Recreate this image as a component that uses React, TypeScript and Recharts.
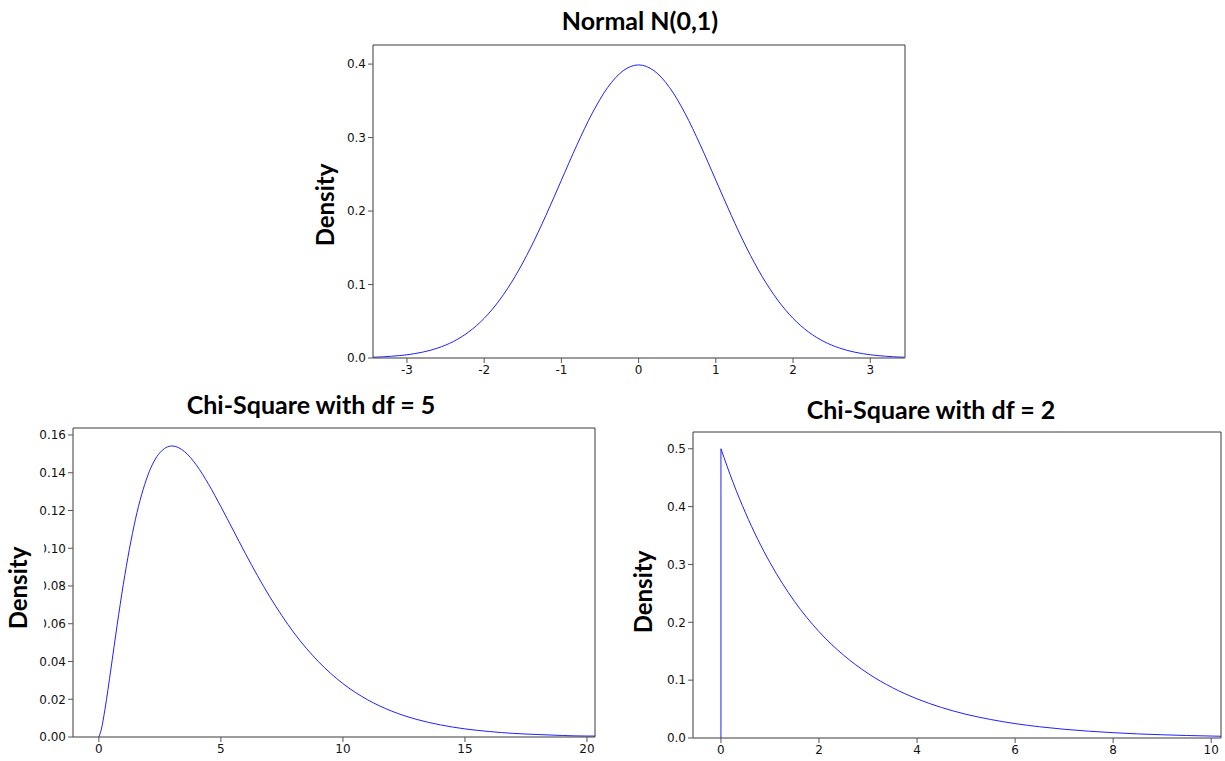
import React from 'react';
import { LineChart, Line, XAxis, YAxis, CartesianGrid } from 'recharts';

// ---- Normal N(0,1) ----
const normalX = [-3.44, -3.4, -3.2, -3.0, -2.8, -2.6, -2.4, -2.2, -2.0, -1.8, -1.6, -1.4, -1.2, -1.0, -0.8, -0.6, -0.4, -0.2, 0,
  0.2, 0.4, 0.6, 0.8, 1.0, 1.2, 1.4, 1.6, 1.8, 2.0, 2.2, 2.4, 2.6, 2.8, 3.0, 3.2, 3.4, 3.44];
const normalY = [0.0011, 0.0012, 0.0024, 0.0044, 0.0079, 0.0136, 0.0224, 0.0355, 0.054, 0.079, 0.1109, 0.1497, 0.1942, 0.242, 0.2897, 0.3332, 0.3683, 0.391, 0.3989,
  0.391, 0.3683, 0.3332, 0.2897, 0.242, 0.1942, 0.1497, 0.1109, 0.079, 0.054, 0.0355, 0.0224, 0.0136, 0.0079, 0.0044, 0.0024, 0.0012, 0.0011];
const normalXTicks = [-3, -2, -1, 0, 1, 2, 3];
const normalYTicks = [0, 0.1, 0.2, 0.3, 0.4];

// ---- Chi-Square df = 5 ----
const chi5X = [0, 0.1, 0.25, 0.5, 0.75, 1, 1.5, 2, 2.5, 3, 3.5, 4, 4.5, 5, 5.5, 6, 7, 8, 9, 10, 11, 12, 13, 14, 15, 16, 17, 18, 19, 20, 20.33];
const chi5Y = [0, 0.004, 0.0147, 0.0366, 0.0594, 0.0807, 0.1154, 0.1384, 0.1506, 0.1542, 0.1513, 0.144, 0.1338, 0.122, 0.1097, 0.0973, 0.0744, 0.0551, 0.0399, 0.0283, 0.0198, 0.0137, 0.0094, 0.0064, 0.0043, 0.0029, 0.0019, 0.0013, 0.0008, 0.0005, 0.0005];
const chi5XTicks = [0, 5, 10, 15, 20];
const chi5YTicks = [0, 0.02, 0.04, 0.06, 0.08, 0.1, 0.12, 0.14, 0.16];

// ---- Chi-Square df = 2 ----
const chi2X = [0, 0.25, 0.5, 0.75, 1, 1.5, 2, 2.5, 3, 3.5, 4, 4.5, 5, 5.5, 6, 6.5, 7, 7.5, 8, 8.5, 9, 9.5, 10, 10.2];
const chi2Y = [0.5, 0.4412, 0.3894, 0.3436, 0.3033, 0.2362, 0.1839, 0.1433, 0.1116, 0.0869, 0.0677, 0.0527, 0.041, 0.032, 0.0249, 0.0194, 0.0151, 0.0118, 0.0092, 0.0071, 0.0056, 0.0043, 0.0034, 0.003];
const chi2XTicks = [0, 2, 4, 6, 8, 10];
const chi2YTicks = [0, 0.1, 0.2, 0.3, 0.4, 0.5];

const zip = (xs: number[], ys: number[]) => xs.map((x, i) => ({ x, y: ys[i] }));
const normalData = zip(normalX, normalY);
const chi5Data = zip(chi5X, chi5Y);
const chi2Data = zip(chi2X, chi2Y);
const chi2Jump = [{ x: chi2X[0], y: 0 }, { x: chi2X[0], y: chi2Y[0] }];

const LINE = '#2020ff';
const FRAME = '#3a3a3a';
const tickStyle = { fontFamily: 'DejaVu Sans, sans-serif', fontSize: 12, fill: '#111' };
const titleFont = 'Lato, "Open Sans", sans-serif';

type PanelProps = {
  left: number; top: number; width: number; height: number;
  margin: { top: number; right: number; bottom: number; left: number };
  data: { x: number; y: number }[];
  extra?: { x: number; y: number }[];
  xDomain: [number, number]; yDomain: [number, number];
  xTicks: number[]; yTicks: number[]; yDigits: number; xHeight: number;
  lineType: 'monotone' | 'linear';
};

function Panel(p: PanelProps) {
  return (
    <div style={{ position: 'absolute', left: p.left, top: p.top }}>
      <LineChart width={p.width} height={p.height} margin={p.margin}>
        <CartesianGrid
          stroke={FRAME} strokeWidth={1}
          horizontalValues={[p.yDomain[1]]} verticalValues={[p.xDomain[1]]}
        />
        <XAxis
          dataKey="x" type="number" domain={p.xDomain} ticks={p.xTicks} allowDataOverflow
          tick={tickStyle} tickSize={5} tickMargin={2} height={p.xHeight}
          axisLine={{ stroke: FRAME }} tickLine={{ stroke: '#555' }} interval={0}
        />
        <YAxis
          type="number" domain={p.yDomain} ticks={p.yTicks} allowDataOverflow width={73}
          tick={tickStyle} tickSize={5} tickMargin={2} interval={0}
          tickFormatter={(v: number) => v.toFixed(p.yDigits)}
          axisLine={{ stroke: FRAME }} tickLine={{ stroke: '#555' }}
        />
        {p.extra ? (
          <Line data={p.extra} dataKey="y" type="linear" stroke={LINE} strokeWidth={1} dot={false} isAnimationActive={false} />
        ) : null}
        <Line data={p.data} dataKey="y" type={p.lineType} stroke={LINE} strokeWidth={1} dot={false} isAnimationActive={false} />
      </LineChart>
    </div>
  );
}

function Title({ text, cx, cy }: { text: string; cx: number; cy: number }) {
  return (
    <div style={{
      position: 'absolute', left: cx, top: cy, transform: 'translate(-50%, -50%)',
      fontFamily: titleFont, fontWeight: 700, fontSize: 25, color: '#000', whiteSpace: 'nowrap', lineHeight: 1,
    }}>{text}</div>
  );
}

function YLabel({ cx, cy, box }: { cx: number; cy: number; box?: { left: number; top: number; width: number; height: number } }) {
  return (
    <>
      {box ? <div style={{ position: 'absolute', left: box.left, top: box.top, width: box.width, height: box.height, background: '#fff' }} /> : null}
      <div style={{
        position: 'absolute', left: cx, top: cy, transform: 'translate(-50%, -50%) rotate(-90deg)',
        fontFamily: titleFont, fontWeight: 700, fontSize: 24, color: '#000', whiteSpace: 'nowrap', lineHeight: 1,
      }}>Density</div>
    </>
  );
}

export default function App() {
  return (
    <div style={{ position: 'absolute', left: 0, top: 0, width: 1225, height: 761, background: '#fff', overflow: 'hidden' }}>
      <Panel
        left={300} top={0} width={610} height={400}
        margin={{ top: 45, right: 5, bottom: 12, left: 0 }}
        data={normalData} xDomain={[-3.44, 3.45]} yDomain={[0, 0.426]}
        xTicks={normalXTicks} yTicks={normalYTicks} yDigits={1} xHeight={30} lineType="monotone"
      />
      <Panel
        left={0} top={380} width={600} height={381}
        margin={{ top: 48, right: 5, bottom: 0, left: 0 }}
        data={chi5Data} xDomain={[-1.06, 20.33]} yDomain={[0, 0.1637]}
        xTicks={chi5XTicks} yTicks={chi5YTicks} yDigits={2} xHeight={24} lineType="monotone"
      />
      <Panel
        left={620} top={380} width={605} height={381}
        margin={{ top: 52, right: 4, bottom: 0, left: 0 }}
        data={chi2Data} extra={chi2Jump} xDomain={[-0.57, 10.2]} yDomain={[0, 0.529]}
        xTicks={chi2XTicks} yTicks={chi2YTicks} yDigits={1} xHeight={23} lineType="monotone"
      />
      <Title text="Normal N(0,1)" cx={640} cy={20} />
      <Title text="Chi-Square with df = 5" cx={311} cy={404} />
      <Title text="Chi-Square with df = 2" cx={931} cy={409} />
      <YLabel cx={325} cy={205} />
      <YLabel cx={18} cy={588} box={{ left: 0, top: 532, width: 44, height: 106 }} />
      <YLabel cx={643} cy={592} />
    </div>
  );
}
